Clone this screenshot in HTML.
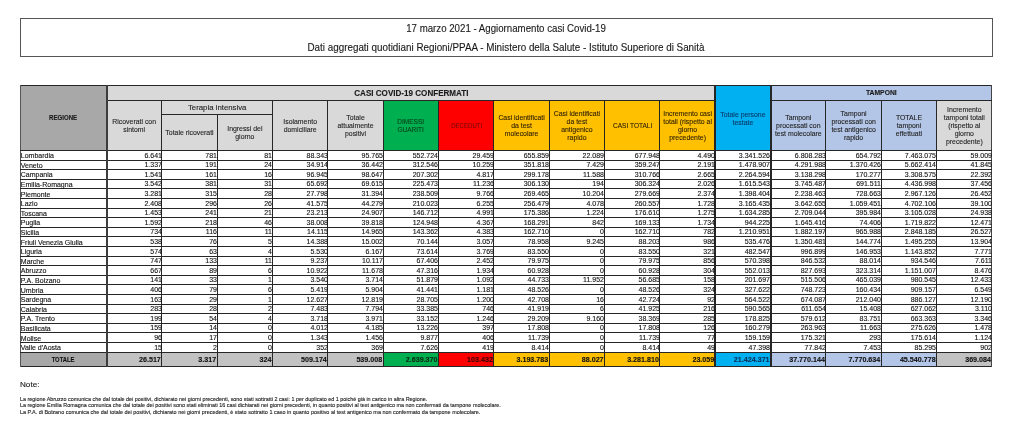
<!DOCTYPE html>
<html><head><meta charset="utf-8"><title>COVID-19 17 marzo 2021</title>
<style>
html,body{margin:0;padding:0;background:#fff;}
body{width:1024px;height:432px;position:relative;overflow:hidden;font-family:"Liberation Sans",sans-serif;}
#wrap{position:absolute;left:0;top:0;width:1024px;height:432px;filter:blur(0.4px);}
.r{position:absolute;box-sizing:border-box;}
.t{position:absolute;white-space:nowrap;overflow:visible;-webkit-text-stroke:0.12px currentColor;}
.h{position:absolute;white-space:nowrap;overflow:visible;-webkit-text-stroke:0.1px currentColor;}
</style></head><body><div id="wrap">
<div class="r" style="left:19.5px;top:17.5px;width:973px;height:39px;border:1px solid #555"></div>
<div class="t" style="left:20.00px;width:972.00px;top:23.28px;line-height:12.24px;font-size:10.2px;text-align:center;color:#1a1a1a;transform:scaleX(0.95);transform-origin:50% 50%">17 marzo 2021 - Aggiornamento casi Covid-19</div>
<div class="t" style="left:20.00px;width:972.00px;top:41.98px;line-height:12.24px;font-size:10.2px;text-align:center;color:#1a1a1a;transform:scaleX(0.966);transform-origin:50% 50%">Dati aggregati quotidiani Regioni/PPAA - Ministero della Salute - Istituto Superiore di Sanità</div>
<div class="r" style="left:20.30px;top:85.50px;width:86.20px;height:65.00px;background:#a8a8a8"></div>
<div class="r" style="left:106.50px;top:85.50px;width:608.78px;height:14.50px;background:#d9d9d9"></div>
<div class="r" style="left:715.28px;top:85.50px;width:55.34px;height:65.00px;background:#00b0f0"></div>
<div class="r" style="left:770.62px;top:85.50px;width:221.38px;height:14.50px;background:#b4c6e7"></div>
<div class="r" style="left:106.50px;top:100.00px;width:55.34px;height:50.50px;background:#d9d9d9"></div>
<div class="r" style="left:161.84px;top:100.00px;width:55.34px;height:50.50px;background:#d9d9d9"></div>
<div class="r" style="left:217.19px;top:100.00px;width:55.34px;height:50.50px;background:#d9d9d9"></div>
<div class="r" style="left:272.53px;top:100.00px;width:55.34px;height:50.50px;background:#d9d9d9"></div>
<div class="r" style="left:327.88px;top:100.00px;width:55.34px;height:50.50px;background:#d9d9d9"></div>
<div class="r" style="left:383.22px;top:100.00px;width:55.34px;height:50.50px;background:#00b050"></div>
<div class="r" style="left:438.56px;top:100.00px;width:55.34px;height:50.50px;background:#ff0000"></div>
<div class="r" style="left:493.91px;top:100.00px;width:55.34px;height:50.50px;background:#ffc000"></div>
<div class="r" style="left:549.25px;top:100.00px;width:55.34px;height:50.50px;background:#ffc000"></div>
<div class="r" style="left:604.59px;top:100.00px;width:55.34px;height:50.50px;background:#ffc000"></div>
<div class="r" style="left:659.94px;top:100.00px;width:55.34px;height:50.50px;background:#ffc000"></div>
<div class="r" style="left:770.62px;top:100.00px;width:55.34px;height:50.50px;background:#b4c6e7"></div>
<div class="r" style="left:825.97px;top:100.00px;width:55.34px;height:50.50px;background:#b4c6e7"></div>
<div class="r" style="left:881.31px;top:100.00px;width:55.34px;height:50.50px;background:#b4c6e7"></div>
<div class="r" style="left:936.66px;top:100.00px;width:55.34px;height:50.50px;background:#d9d9d9"></div>
<div class="r" style="left:20.30px;top:352.10px;width:86.20px;height:13.90px;background:#a8a8a8"></div>
<div class="r" style="left:106.50px;top:352.10px;width:55.34px;height:13.90px;background:#c2c2c2"></div>
<div class="r" style="left:161.84px;top:352.10px;width:55.34px;height:13.90px;background:#c2c2c2"></div>
<div class="r" style="left:217.19px;top:352.10px;width:55.34px;height:13.90px;background:#c2c2c2"></div>
<div class="r" style="left:272.53px;top:352.10px;width:55.34px;height:13.90px;background:#c2c2c2"></div>
<div class="r" style="left:327.88px;top:352.10px;width:55.34px;height:13.90px;background:#c2c2c2"></div>
<div class="r" style="left:383.22px;top:352.10px;width:55.34px;height:13.90px;background:#00b050"></div>
<div class="r" style="left:438.56px;top:352.10px;width:55.34px;height:13.90px;background:#ff0000"></div>
<div class="r" style="left:493.91px;top:352.10px;width:55.34px;height:13.90px;background:#ffc000"></div>
<div class="r" style="left:549.25px;top:352.10px;width:55.34px;height:13.90px;background:#ffc000"></div>
<div class="r" style="left:604.59px;top:352.10px;width:55.34px;height:13.90px;background:#ffc000"></div>
<div class="r" style="left:659.94px;top:352.10px;width:55.34px;height:13.90px;background:#ffc000"></div>
<div class="r" style="left:715.28px;top:352.10px;width:55.34px;height:13.90px;background:#00b0f0"></div>
<div class="r" style="left:770.62px;top:352.10px;width:55.34px;height:13.90px;background:#b4c6e7"></div>
<div class="r" style="left:825.97px;top:352.10px;width:55.34px;height:13.90px;background:#b4c6e7"></div>
<div class="r" style="left:881.31px;top:352.10px;width:55.34px;height:13.90px;background:#b4c6e7"></div>
<div class="r" style="left:936.66px;top:352.10px;width:55.34px;height:13.90px;background:#c2c2c2"></div>
<div class="r" style="left:20.30px;top:85.00px;width:971.70px;height:1.0px;background:#262626"></div>
<div class="r" style="left:20.30px;top:365.50px;width:971.70px;height:1.0px;background:#262626"></div>
<div class="r" style="left:19.80px;top:85.00px;width:1.0px;height:281.50px;background:#555"></div>
<div class="r" style="left:991.30px;top:85.00px;width:1.0px;height:281.50px;background:#444"></div>
<div class="r" style="left:106.50px;top:99.50px;width:608.78px;height:1.0px;background:#262626"></div>
<div class="r" style="left:770.62px;top:99.50px;width:221.38px;height:1.0px;background:#262626"></div>
<div class="r" style="left:161.84px;top:113.80px;width:110.69px;height:1.0px;background:#262626"></div>
<div class="r" style="left:20.30px;top:150.00px;width:971.70px;height:1.0px;background:#262626"></div>
<div class="r" style="left:20.30px;top:159.60px;width:971.70px;height:1.0px;background:#262626"></div>
<div class="r" style="left:20.30px;top:169.20px;width:971.70px;height:1.0px;background:#262626"></div>
<div class="r" style="left:20.30px;top:178.80px;width:971.70px;height:1.0px;background:#262626"></div>
<div class="r" style="left:20.30px;top:188.40px;width:971.70px;height:1.0px;background:#262626"></div>
<div class="r" style="left:20.30px;top:198.00px;width:971.70px;height:1.0px;background:#262626"></div>
<div class="r" style="left:20.30px;top:207.60px;width:971.70px;height:1.0px;background:#262626"></div>
<div class="r" style="left:20.30px;top:217.20px;width:971.70px;height:1.0px;background:#262626"></div>
<div class="r" style="left:20.30px;top:226.80px;width:971.70px;height:1.0px;background:#262626"></div>
<div class="r" style="left:20.30px;top:236.40px;width:971.70px;height:1.0px;background:#262626"></div>
<div class="r" style="left:20.30px;top:246.00px;width:971.70px;height:1.0px;background:#262626"></div>
<div class="r" style="left:20.30px;top:255.60px;width:971.70px;height:1.0px;background:#262626"></div>
<div class="r" style="left:20.30px;top:265.20px;width:971.70px;height:1.0px;background:#262626"></div>
<div class="r" style="left:20.30px;top:274.80px;width:971.70px;height:1.0px;background:#262626"></div>
<div class="r" style="left:20.30px;top:284.40px;width:971.70px;height:1.0px;background:#262626"></div>
<div class="r" style="left:20.30px;top:294.00px;width:971.70px;height:1.0px;background:#262626"></div>
<div class="r" style="left:20.30px;top:303.60px;width:971.70px;height:1.0px;background:#262626"></div>
<div class="r" style="left:20.30px;top:313.20px;width:971.70px;height:1.0px;background:#262626"></div>
<div class="r" style="left:20.30px;top:322.80px;width:971.70px;height:1.0px;background:#262626"></div>
<div class="r" style="left:20.30px;top:332.40px;width:971.70px;height:1.0px;background:#262626"></div>
<div class="r" style="left:20.30px;top:342.00px;width:971.70px;height:1.0px;background:#262626"></div>
<div class="r" style="left:20.30px;top:351.60px;width:971.70px;height:1.0px;background:#262626"></div>
<div class="r" style="left:105.60px;top:85.00px;width:2.0px;height:281.50px;background:#3c3c3c"></div>
<div class="r" style="left:161.34px;top:99.50px;width:1.0px;height:267.00px;background:#262626"></div>
<div class="r" style="left:216.69px;top:113.80px;width:1.0px;height:252.70px;background:#262626"></div>
<div class="r" style="left:272.03px;top:99.50px;width:1.0px;height:267.00px;background:#262626"></div>
<div class="r" style="left:327.38px;top:99.50px;width:1.0px;height:267.00px;background:#262626"></div>
<div class="r" style="left:382.72px;top:99.50px;width:1.0px;height:267.00px;background:#262626"></div>
<div class="r" style="left:438.06px;top:99.50px;width:1.0px;height:267.00px;background:#262626"></div>
<div class="r" style="left:493.41px;top:99.50px;width:1.0px;height:267.00px;background:#262626"></div>
<div class="r" style="left:548.75px;top:99.50px;width:1.0px;height:267.00px;background:#262626"></div>
<div class="r" style="left:604.09px;top:99.50px;width:1.0px;height:267.00px;background:#262626"></div>
<div class="r" style="left:659.44px;top:99.50px;width:1.0px;height:267.00px;background:#262626"></div>
<div class="r" style="left:714.28px;top:85.00px;width:2.0px;height:281.50px;background:#262626"></div>
<div class="r" style="left:769.62px;top:85.00px;width:2.0px;height:281.50px;background:#262626"></div>
<div class="r" style="left:825.47px;top:99.50px;width:1.0px;height:267.00px;background:#262626"></div>
<div class="r" style="left:880.81px;top:99.50px;width:1.0px;height:267.00px;background:#262626"></div>
<div class="r" style="left:936.16px;top:99.50px;width:1.0px;height:267.00px;background:#262626"></div>
<div class="t" style="left:20.30px;width:86.20px;top:114.00px;line-height:8.40px;font-size:7.0px;text-align:center;color:#1a1a1a;font-weight:700;transform:scaleX(0.87);transform-origin:50% 50%">REGIONE</div>
<div class="t" style="left:106.50px;width:608.78px;top:87.80px;line-height:10.20px;font-size:8.5px;text-align:center;color:#1a1a1a;font-weight:700;transform:scaleX(0.95);transform-origin:50% 50%">CASI COVID-19 CONFERMATI</div>
<div class="t" style="left:770.62px;width:221.38px;top:88.52px;line-height:8.16px;font-size:6.8px;text-align:center;color:#1a1a1a;font-weight:700">TAMPONI</div>
<div class="h" style="left:161.84px;width:110.69px;top:102.92px;line-height:9.36px;font-size:7.8px;text-align:center;color:#222">Terapia intensiva</div>
<div class="h" style="left:106.50px;width:55.34px;top:118.26px;line-height:8.28px;font-size:6.9px;text-align:center;color:#222">Ricoverati con</div>
<div class="h" style="left:106.50px;width:55.34px;top:126.26px;line-height:8.28px;font-size:6.9px;text-align:center;color:#222">sintomi</div>
<div class="h" style="left:161.84px;width:55.34px;top:129.46px;line-height:8.28px;font-size:6.9px;text-align:center;color:#222">Totale ricoverati</div>
<div class="h" style="left:217.19px;width:55.34px;top:125.46px;line-height:8.28px;font-size:6.9px;text-align:center;color:#222">Ingressi del</div>
<div class="h" style="left:217.19px;width:55.34px;top:133.46px;line-height:8.28px;font-size:6.9px;text-align:center;color:#222">giorno</div>
<div class="h" style="left:272.53px;width:55.34px;top:118.26px;line-height:8.28px;font-size:6.9px;text-align:center;color:#222">Isolamento</div>
<div class="h" style="left:272.53px;width:55.34px;top:126.26px;line-height:8.28px;font-size:6.9px;text-align:center;color:#222">domiciliare</div>
<div class="h" style="left:327.88px;width:55.34px;top:114.16px;line-height:8.28px;font-size:6.9px;text-align:center;color:#222">Totale</div>
<div class="h" style="left:327.88px;width:55.34px;top:122.16px;line-height:8.28px;font-size:6.9px;text-align:center;color:#222">attualmente</div>
<div class="h" style="left:327.88px;width:55.34px;top:130.16px;line-height:8.28px;font-size:6.9px;text-align:center;color:#222">positivi</div>
<div class="h" style="left:383.22px;width:55.34px;top:118.26px;line-height:8.28px;font-size:6.9px;text-align:center;color:#0a3d18;transform:scaleX(0.95);transform-origin:50% 50%">DIMESSI</div>
<div class="h" style="left:383.22px;width:55.34px;top:126.26px;line-height:8.28px;font-size:6.9px;text-align:center;color:#0a3d18;transform:scaleX(0.95);transform-origin:50% 50%">GUARITI</div>
<div class="h" style="left:438.56px;width:55.34px;top:122.06px;line-height:8.28px;font-size:6.9px;text-align:center;color:#7a0808;transform:scaleX(0.88);transform-origin:50% 50%">DECEDUTI</div>
<div class="h" style="left:493.91px;width:55.34px;top:114.16px;line-height:8.28px;font-size:6.9px;text-align:center;color:#2a1e00">Casi identificati</div>
<div class="h" style="left:493.91px;width:55.34px;top:122.16px;line-height:8.28px;font-size:6.9px;text-align:center;color:#2a1e00">da test</div>
<div class="h" style="left:493.91px;width:55.34px;top:130.16px;line-height:8.28px;font-size:6.9px;text-align:center;color:#2a1e00">molecolare</div>
<div class="h" style="left:549.25px;width:55.34px;top:110.16px;line-height:8.28px;font-size:6.9px;text-align:center;color:#2a1e00">Casi identificati</div>
<div class="h" style="left:549.25px;width:55.34px;top:118.16px;line-height:8.28px;font-size:6.9px;text-align:center;color:#2a1e00">da test</div>
<div class="h" style="left:549.25px;width:55.34px;top:126.16px;line-height:8.28px;font-size:6.9px;text-align:center;color:#2a1e00">antigenico</div>
<div class="h" style="left:549.25px;width:55.34px;top:134.16px;line-height:8.28px;font-size:6.9px;text-align:center;color:#2a1e00">rapido</div>
<div class="h" style="left:604.59px;width:55.34px;top:122.06px;line-height:8.28px;font-size:6.9px;text-align:center;color:#2a1e00;transform:scaleX(0.95);transform-origin:50% 50%">CASI TOTALI</div>
<div class="h" style="left:659.94px;width:55.34px;top:110.16px;line-height:8.28px;font-size:6.9px;text-align:center;color:#2a1e00">Incremento casi</div>
<div class="h" style="left:659.94px;width:55.34px;top:118.16px;line-height:8.28px;font-size:6.9px;text-align:center;color:#2a1e00">totali (rispetto al</div>
<div class="h" style="left:659.94px;width:55.34px;top:126.16px;line-height:8.28px;font-size:6.9px;text-align:center;color:#2a1e00">giorno</div>
<div class="h" style="left:659.94px;width:55.34px;top:134.16px;line-height:8.28px;font-size:6.9px;text-align:center;color:#2a1e00">precedente)</div>
<div class="h" style="left:715.28px;width:55.34px;top:111.06px;line-height:8.28px;font-size:6.9px;text-align:center;color:#0b3a6a">Totale persone</div>
<div class="h" style="left:715.28px;width:55.34px;top:119.06px;line-height:8.28px;font-size:6.9px;text-align:center;color:#0b3a6a">testate</div>
<div class="h" style="left:770.62px;width:55.34px;top:114.16px;line-height:8.28px;font-size:6.9px;text-align:center;color:#222">Tamponi</div>
<div class="h" style="left:770.62px;width:55.34px;top:122.16px;line-height:8.28px;font-size:6.9px;text-align:center;color:#222">processati con</div>
<div class="h" style="left:770.62px;width:55.34px;top:130.16px;line-height:8.28px;font-size:6.9px;text-align:center;color:#222">test molecolare</div>
<div class="h" style="left:825.97px;width:55.34px;top:110.16px;line-height:8.28px;font-size:6.9px;text-align:center;color:#222">Tamponi</div>
<div class="h" style="left:825.97px;width:55.34px;top:118.16px;line-height:8.28px;font-size:6.9px;text-align:center;color:#222">processati con</div>
<div class="h" style="left:825.97px;width:55.34px;top:126.16px;line-height:8.28px;font-size:6.9px;text-align:center;color:#222">test antigenico</div>
<div class="h" style="left:825.97px;width:55.34px;top:134.16px;line-height:8.28px;font-size:6.9px;text-align:center;color:#222">rapido</div>
<div class="h" style="left:881.31px;width:55.34px;top:114.16px;line-height:8.28px;font-size:6.9px;text-align:center;color:#222">TOTALE</div>
<div class="h" style="left:881.31px;width:55.34px;top:122.16px;line-height:8.28px;font-size:6.9px;text-align:center;color:#222">tamponi</div>
<div class="h" style="left:881.31px;width:55.34px;top:130.16px;line-height:8.28px;font-size:6.9px;text-align:center;color:#222">effettuati</div>
<div class="h" style="left:936.66px;width:55.34px;top:106.06px;line-height:8.28px;font-size:6.9px;text-align:center;color:#222">Incremento</div>
<div class="h" style="left:936.66px;width:55.34px;top:114.06px;line-height:8.28px;font-size:6.9px;text-align:center;color:#222">tamponi totali</div>
<div class="h" style="left:936.66px;width:55.34px;top:122.06px;line-height:8.28px;font-size:6.9px;text-align:center;color:#222">(rispetto al</div>
<div class="h" style="left:936.66px;width:55.34px;top:130.06px;line-height:8.28px;font-size:6.9px;text-align:center;color:#222">giorno</div>
<div class="h" style="left:936.66px;width:55.34px;top:138.06px;line-height:8.28px;font-size:6.9px;text-align:center;color:#222">precedente)</div>
<div class="t" style="left:20.80px;width:85.70px;top:152.20px;line-height:8.40px;font-size:7.0px;text-align:left;color:#111">Lombardia</div>
<div class="t" style="left:106.50px;width:54.94px;top:151.66px;line-height:8.88px;font-size:7.4px;text-align:right;color:#111;transform:scaleX(0.946);transform-origin:100% 50%">6.641</div>
<div class="t" style="left:161.84px;width:54.94px;top:151.66px;line-height:8.88px;font-size:7.4px;text-align:right;color:#111;transform:scaleX(0.946);transform-origin:100% 50%">781</div>
<div class="t" style="left:217.19px;width:54.94px;top:151.66px;line-height:8.88px;font-size:7.4px;text-align:right;color:#111;transform:scaleX(0.946);transform-origin:100% 50%">81</div>
<div class="t" style="left:272.53px;width:54.94px;top:151.66px;line-height:8.88px;font-size:7.4px;text-align:right;color:#111;transform:scaleX(0.946);transform-origin:100% 50%">88.343</div>
<div class="t" style="left:327.88px;width:54.94px;top:151.66px;line-height:8.88px;font-size:7.4px;text-align:right;color:#111;transform:scaleX(0.946);transform-origin:100% 50%">95.765</div>
<div class="t" style="left:383.22px;width:54.94px;top:151.66px;line-height:8.88px;font-size:7.4px;text-align:right;color:#111;transform:scaleX(0.946);transform-origin:100% 50%">552.724</div>
<div class="t" style="left:438.56px;width:54.94px;top:151.66px;line-height:8.88px;font-size:7.4px;text-align:right;color:#111;transform:scaleX(0.946);transform-origin:100% 50%">29.459</div>
<div class="t" style="left:493.91px;width:54.94px;top:151.66px;line-height:8.88px;font-size:7.4px;text-align:right;color:#111;transform:scaleX(0.946);transform-origin:100% 50%">655.859</div>
<div class="t" style="left:549.25px;width:54.94px;top:151.66px;line-height:8.88px;font-size:7.4px;text-align:right;color:#111;transform:scaleX(0.946);transform-origin:100% 50%">22.089</div>
<div class="t" style="left:604.59px;width:54.94px;top:151.66px;line-height:8.88px;font-size:7.4px;text-align:right;color:#111;transform:scaleX(0.946);transform-origin:100% 50%">677.948</div>
<div class="t" style="left:659.94px;width:54.94px;top:151.66px;line-height:8.88px;font-size:7.4px;text-align:right;color:#111;transform:scaleX(0.946);transform-origin:100% 50%">4.490</div>
<div class="t" style="left:715.28px;width:54.94px;top:151.66px;line-height:8.88px;font-size:7.4px;text-align:right;color:#111;transform:scaleX(0.946);transform-origin:100% 50%">3.341.526</div>
<div class="t" style="left:770.62px;width:54.94px;top:151.66px;line-height:8.88px;font-size:7.4px;text-align:right;color:#111;transform:scaleX(0.946);transform-origin:100% 50%">6.808.283</div>
<div class="t" style="left:825.97px;width:54.94px;top:151.66px;line-height:8.88px;font-size:7.4px;text-align:right;color:#111;transform:scaleX(0.946);transform-origin:100% 50%">654.792</div>
<div class="t" style="left:881.31px;width:54.94px;top:151.66px;line-height:8.88px;font-size:7.4px;text-align:right;color:#111;transform:scaleX(0.946);transform-origin:100% 50%">7.463.075</div>
<div class="t" style="left:936.66px;width:54.94px;top:151.66px;line-height:8.88px;font-size:7.4px;text-align:right;color:#111;transform:scaleX(0.946);transform-origin:100% 50%">59.009</div>
<div class="t" style="left:20.80px;width:85.70px;top:161.80px;line-height:8.40px;font-size:7.0px;text-align:left;color:#111">Veneto</div>
<div class="t" style="left:106.50px;width:54.94px;top:161.26px;line-height:8.88px;font-size:7.4px;text-align:right;color:#111;transform:scaleX(0.946);transform-origin:100% 50%">1.337</div>
<div class="t" style="left:161.84px;width:54.94px;top:161.26px;line-height:8.88px;font-size:7.4px;text-align:right;color:#111;transform:scaleX(0.946);transform-origin:100% 50%">191</div>
<div class="t" style="left:217.19px;width:54.94px;top:161.26px;line-height:8.88px;font-size:7.4px;text-align:right;color:#111;transform:scaleX(0.946);transform-origin:100% 50%">24</div>
<div class="t" style="left:272.53px;width:54.94px;top:161.26px;line-height:8.88px;font-size:7.4px;text-align:right;color:#111;transform:scaleX(0.946);transform-origin:100% 50%">34.914</div>
<div class="t" style="left:327.88px;width:54.94px;top:161.26px;line-height:8.88px;font-size:7.4px;text-align:right;color:#111;transform:scaleX(0.946);transform-origin:100% 50%">36.442</div>
<div class="t" style="left:383.22px;width:54.94px;top:161.26px;line-height:8.88px;font-size:7.4px;text-align:right;color:#111;transform:scaleX(0.946);transform-origin:100% 50%">312.546</div>
<div class="t" style="left:438.56px;width:54.94px;top:161.26px;line-height:8.88px;font-size:7.4px;text-align:right;color:#111;transform:scaleX(0.946);transform-origin:100% 50%">10.259</div>
<div class="t" style="left:493.91px;width:54.94px;top:161.26px;line-height:8.88px;font-size:7.4px;text-align:right;color:#111;transform:scaleX(0.946);transform-origin:100% 50%">351.818</div>
<div class="t" style="left:549.25px;width:54.94px;top:161.26px;line-height:8.88px;font-size:7.4px;text-align:right;color:#111;transform:scaleX(0.946);transform-origin:100% 50%">7.429</div>
<div class="t" style="left:604.59px;width:54.94px;top:161.26px;line-height:8.88px;font-size:7.4px;text-align:right;color:#111;transform:scaleX(0.946);transform-origin:100% 50%">359.247</div>
<div class="t" style="left:659.94px;width:54.94px;top:161.26px;line-height:8.88px;font-size:7.4px;text-align:right;color:#111;transform:scaleX(0.946);transform-origin:100% 50%">2.191</div>
<div class="t" style="left:715.28px;width:54.94px;top:161.26px;line-height:8.88px;font-size:7.4px;text-align:right;color:#111;transform:scaleX(0.946);transform-origin:100% 50%">1.478.907</div>
<div class="t" style="left:770.62px;width:54.94px;top:161.26px;line-height:8.88px;font-size:7.4px;text-align:right;color:#111;transform:scaleX(0.946);transform-origin:100% 50%">4.291.988</div>
<div class="t" style="left:825.97px;width:54.94px;top:161.26px;line-height:8.88px;font-size:7.4px;text-align:right;color:#111;transform:scaleX(0.946);transform-origin:100% 50%">1.370.426</div>
<div class="t" style="left:881.31px;width:54.94px;top:161.26px;line-height:8.88px;font-size:7.4px;text-align:right;color:#111;transform:scaleX(0.946);transform-origin:100% 50%">5.662.414</div>
<div class="t" style="left:936.66px;width:54.94px;top:161.26px;line-height:8.88px;font-size:7.4px;text-align:right;color:#111;transform:scaleX(0.946);transform-origin:100% 50%">41.845</div>
<div class="t" style="left:20.80px;width:85.70px;top:171.40px;line-height:8.40px;font-size:7.0px;text-align:left;color:#111">Campania</div>
<div class="t" style="left:106.50px;width:54.94px;top:170.86px;line-height:8.88px;font-size:7.4px;text-align:right;color:#111;transform:scaleX(0.946);transform-origin:100% 50%">1.541</div>
<div class="t" style="left:161.84px;width:54.94px;top:170.86px;line-height:8.88px;font-size:7.4px;text-align:right;color:#111;transform:scaleX(0.946);transform-origin:100% 50%">161</div>
<div class="t" style="left:217.19px;width:54.94px;top:170.86px;line-height:8.88px;font-size:7.4px;text-align:right;color:#111;transform:scaleX(0.946);transform-origin:100% 50%">16</div>
<div class="t" style="left:272.53px;width:54.94px;top:170.86px;line-height:8.88px;font-size:7.4px;text-align:right;color:#111;transform:scaleX(0.946);transform-origin:100% 50%">96.945</div>
<div class="t" style="left:327.88px;width:54.94px;top:170.86px;line-height:8.88px;font-size:7.4px;text-align:right;color:#111;transform:scaleX(0.946);transform-origin:100% 50%">98.647</div>
<div class="t" style="left:383.22px;width:54.94px;top:170.86px;line-height:8.88px;font-size:7.4px;text-align:right;color:#111;transform:scaleX(0.946);transform-origin:100% 50%">207.302</div>
<div class="t" style="left:438.56px;width:54.94px;top:170.86px;line-height:8.88px;font-size:7.4px;text-align:right;color:#111;transform:scaleX(0.946);transform-origin:100% 50%">4.817</div>
<div class="t" style="left:493.91px;width:54.94px;top:170.86px;line-height:8.88px;font-size:7.4px;text-align:right;color:#111;transform:scaleX(0.946);transform-origin:100% 50%">299.178</div>
<div class="t" style="left:549.25px;width:54.94px;top:170.86px;line-height:8.88px;font-size:7.4px;text-align:right;color:#111;transform:scaleX(0.946);transform-origin:100% 50%">11.588</div>
<div class="t" style="left:604.59px;width:54.94px;top:170.86px;line-height:8.88px;font-size:7.4px;text-align:right;color:#111;transform:scaleX(0.946);transform-origin:100% 50%">310.766</div>
<div class="t" style="left:659.94px;width:54.94px;top:170.86px;line-height:8.88px;font-size:7.4px;text-align:right;color:#111;transform:scaleX(0.946);transform-origin:100% 50%">2.665</div>
<div class="t" style="left:715.28px;width:54.94px;top:170.86px;line-height:8.88px;font-size:7.4px;text-align:right;color:#111;transform:scaleX(0.946);transform-origin:100% 50%">2.264.594</div>
<div class="t" style="left:770.62px;width:54.94px;top:170.86px;line-height:8.88px;font-size:7.4px;text-align:right;color:#111;transform:scaleX(0.946);transform-origin:100% 50%">3.138.298</div>
<div class="t" style="left:825.97px;width:54.94px;top:170.86px;line-height:8.88px;font-size:7.4px;text-align:right;color:#111;transform:scaleX(0.946);transform-origin:100% 50%">170.277</div>
<div class="t" style="left:881.31px;width:54.94px;top:170.86px;line-height:8.88px;font-size:7.4px;text-align:right;color:#111;transform:scaleX(0.946);transform-origin:100% 50%">3.308.575</div>
<div class="t" style="left:936.66px;width:54.94px;top:170.86px;line-height:8.88px;font-size:7.4px;text-align:right;color:#111;transform:scaleX(0.946);transform-origin:100% 50%">22.392</div>
<div class="t" style="left:20.80px;width:85.70px;top:181.00px;line-height:8.40px;font-size:7.0px;text-align:left;color:#111">Emilia-Romagna</div>
<div class="t" style="left:106.50px;width:54.94px;top:180.46px;line-height:8.88px;font-size:7.4px;text-align:right;color:#111;transform:scaleX(0.946);transform-origin:100% 50%">3.542</div>
<div class="t" style="left:161.84px;width:54.94px;top:180.46px;line-height:8.88px;font-size:7.4px;text-align:right;color:#111;transform:scaleX(0.946);transform-origin:100% 50%">381</div>
<div class="t" style="left:217.19px;width:54.94px;top:180.46px;line-height:8.88px;font-size:7.4px;text-align:right;color:#111;transform:scaleX(0.946);transform-origin:100% 50%">31</div>
<div class="t" style="left:272.53px;width:54.94px;top:180.46px;line-height:8.88px;font-size:7.4px;text-align:right;color:#111;transform:scaleX(0.946);transform-origin:100% 50%">65.692</div>
<div class="t" style="left:327.88px;width:54.94px;top:180.46px;line-height:8.88px;font-size:7.4px;text-align:right;color:#111;transform:scaleX(0.946);transform-origin:100% 50%">69.615</div>
<div class="t" style="left:383.22px;width:54.94px;top:180.46px;line-height:8.88px;font-size:7.4px;text-align:right;color:#111;transform:scaleX(0.946);transform-origin:100% 50%">225.473</div>
<div class="t" style="left:438.56px;width:54.94px;top:180.46px;line-height:8.88px;font-size:7.4px;text-align:right;color:#111;transform:scaleX(0.946);transform-origin:100% 50%">11.236</div>
<div class="t" style="left:493.91px;width:54.94px;top:180.46px;line-height:8.88px;font-size:7.4px;text-align:right;color:#111;transform:scaleX(0.946);transform-origin:100% 50%">306.130</div>
<div class="t" style="left:549.25px;width:54.94px;top:180.46px;line-height:8.88px;font-size:7.4px;text-align:right;color:#111;transform:scaleX(0.946);transform-origin:100% 50%">194</div>
<div class="t" style="left:604.59px;width:54.94px;top:180.46px;line-height:8.88px;font-size:7.4px;text-align:right;color:#111;transform:scaleX(0.946);transform-origin:100% 50%">306.324</div>
<div class="t" style="left:659.94px;width:54.94px;top:180.46px;line-height:8.88px;font-size:7.4px;text-align:right;color:#111;transform:scaleX(0.946);transform-origin:100% 50%">2.026</div>
<div class="t" style="left:715.28px;width:54.94px;top:180.46px;line-height:8.88px;font-size:7.4px;text-align:right;color:#111;transform:scaleX(0.946);transform-origin:100% 50%">1.615.543</div>
<div class="t" style="left:770.62px;width:54.94px;top:180.46px;line-height:8.88px;font-size:7.4px;text-align:right;color:#111;transform:scaleX(0.946);transform-origin:100% 50%">3.745.487</div>
<div class="t" style="left:825.97px;width:54.94px;top:180.46px;line-height:8.88px;font-size:7.4px;text-align:right;color:#111;transform:scaleX(0.946);transform-origin:100% 50%">691.511</div>
<div class="t" style="left:881.31px;width:54.94px;top:180.46px;line-height:8.88px;font-size:7.4px;text-align:right;color:#111;transform:scaleX(0.946);transform-origin:100% 50%">4.436.998</div>
<div class="t" style="left:936.66px;width:54.94px;top:180.46px;line-height:8.88px;font-size:7.4px;text-align:right;color:#111;transform:scaleX(0.946);transform-origin:100% 50%">37.456</div>
<div class="t" style="left:20.80px;width:85.70px;top:190.60px;line-height:8.40px;font-size:7.0px;text-align:left;color:#111">Piemonte</div>
<div class="t" style="left:106.50px;width:54.94px;top:190.06px;line-height:8.88px;font-size:7.4px;text-align:right;color:#111;transform:scaleX(0.946);transform-origin:100% 50%">3.281</div>
<div class="t" style="left:161.84px;width:54.94px;top:190.06px;line-height:8.88px;font-size:7.4px;text-align:right;color:#111;transform:scaleX(0.946);transform-origin:100% 50%">315</div>
<div class="t" style="left:217.19px;width:54.94px;top:190.06px;line-height:8.88px;font-size:7.4px;text-align:right;color:#111;transform:scaleX(0.946);transform-origin:100% 50%">28</div>
<div class="t" style="left:272.53px;width:54.94px;top:190.06px;line-height:8.88px;font-size:7.4px;text-align:right;color:#111;transform:scaleX(0.946);transform-origin:100% 50%">27.798</div>
<div class="t" style="left:327.88px;width:54.94px;top:190.06px;line-height:8.88px;font-size:7.4px;text-align:right;color:#111;transform:scaleX(0.946);transform-origin:100% 50%">31.394</div>
<div class="t" style="left:383.22px;width:54.94px;top:190.06px;line-height:8.88px;font-size:7.4px;text-align:right;color:#111;transform:scaleX(0.946);transform-origin:100% 50%">238.509</div>
<div class="t" style="left:438.56px;width:54.94px;top:190.06px;line-height:8.88px;font-size:7.4px;text-align:right;color:#111;transform:scaleX(0.946);transform-origin:100% 50%">9.766</div>
<div class="t" style="left:493.91px;width:54.94px;top:190.06px;line-height:8.88px;font-size:7.4px;text-align:right;color:#111;transform:scaleX(0.946);transform-origin:100% 50%">269.465</div>
<div class="t" style="left:549.25px;width:54.94px;top:190.06px;line-height:8.88px;font-size:7.4px;text-align:right;color:#111;transform:scaleX(0.946);transform-origin:100% 50%">10.204</div>
<div class="t" style="left:604.59px;width:54.94px;top:190.06px;line-height:8.88px;font-size:7.4px;text-align:right;color:#111;transform:scaleX(0.946);transform-origin:100% 50%">279.669</div>
<div class="t" style="left:659.94px;width:54.94px;top:190.06px;line-height:8.88px;font-size:7.4px;text-align:right;color:#111;transform:scaleX(0.946);transform-origin:100% 50%">2.374</div>
<div class="t" style="left:715.28px;width:54.94px;top:190.06px;line-height:8.88px;font-size:7.4px;text-align:right;color:#111;transform:scaleX(0.946);transform-origin:100% 50%">1.398.404</div>
<div class="t" style="left:770.62px;width:54.94px;top:190.06px;line-height:8.88px;font-size:7.4px;text-align:right;color:#111;transform:scaleX(0.946);transform-origin:100% 50%">2.238.463</div>
<div class="t" style="left:825.97px;width:54.94px;top:190.06px;line-height:8.88px;font-size:7.4px;text-align:right;color:#111;transform:scaleX(0.946);transform-origin:100% 50%">728.663</div>
<div class="t" style="left:881.31px;width:54.94px;top:190.06px;line-height:8.88px;font-size:7.4px;text-align:right;color:#111;transform:scaleX(0.946);transform-origin:100% 50%">2.967.126</div>
<div class="t" style="left:936.66px;width:54.94px;top:190.06px;line-height:8.88px;font-size:7.4px;text-align:right;color:#111;transform:scaleX(0.946);transform-origin:100% 50%">26.452</div>
<div class="t" style="left:20.80px;width:85.70px;top:200.20px;line-height:8.40px;font-size:7.0px;text-align:left;color:#111">Lazio</div>
<div class="t" style="left:106.50px;width:54.94px;top:199.66px;line-height:8.88px;font-size:7.4px;text-align:right;color:#111;transform:scaleX(0.946);transform-origin:100% 50%">2.408</div>
<div class="t" style="left:161.84px;width:54.94px;top:199.66px;line-height:8.88px;font-size:7.4px;text-align:right;color:#111;transform:scaleX(0.946);transform-origin:100% 50%">296</div>
<div class="t" style="left:217.19px;width:54.94px;top:199.66px;line-height:8.88px;font-size:7.4px;text-align:right;color:#111;transform:scaleX(0.946);transform-origin:100% 50%">26</div>
<div class="t" style="left:272.53px;width:54.94px;top:199.66px;line-height:8.88px;font-size:7.4px;text-align:right;color:#111;transform:scaleX(0.946);transform-origin:100% 50%">41.575</div>
<div class="t" style="left:327.88px;width:54.94px;top:199.66px;line-height:8.88px;font-size:7.4px;text-align:right;color:#111;transform:scaleX(0.946);transform-origin:100% 50%">44.279</div>
<div class="t" style="left:383.22px;width:54.94px;top:199.66px;line-height:8.88px;font-size:7.4px;text-align:right;color:#111;transform:scaleX(0.946);transform-origin:100% 50%">210.023</div>
<div class="t" style="left:438.56px;width:54.94px;top:199.66px;line-height:8.88px;font-size:7.4px;text-align:right;color:#111;transform:scaleX(0.946);transform-origin:100% 50%">6.255</div>
<div class="t" style="left:493.91px;width:54.94px;top:199.66px;line-height:8.88px;font-size:7.4px;text-align:right;color:#111;transform:scaleX(0.946);transform-origin:100% 50%">256.479</div>
<div class="t" style="left:549.25px;width:54.94px;top:199.66px;line-height:8.88px;font-size:7.4px;text-align:right;color:#111;transform:scaleX(0.946);transform-origin:100% 50%">4.078</div>
<div class="t" style="left:604.59px;width:54.94px;top:199.66px;line-height:8.88px;font-size:7.4px;text-align:right;color:#111;transform:scaleX(0.946);transform-origin:100% 50%">260.557</div>
<div class="t" style="left:659.94px;width:54.94px;top:199.66px;line-height:8.88px;font-size:7.4px;text-align:right;color:#111;transform:scaleX(0.946);transform-origin:100% 50%">1.728</div>
<div class="t" style="left:715.28px;width:54.94px;top:199.66px;line-height:8.88px;font-size:7.4px;text-align:right;color:#111;transform:scaleX(0.946);transform-origin:100% 50%">3.165.435</div>
<div class="t" style="left:770.62px;width:54.94px;top:199.66px;line-height:8.88px;font-size:7.4px;text-align:right;color:#111;transform:scaleX(0.946);transform-origin:100% 50%">3.642.655</div>
<div class="t" style="left:825.97px;width:54.94px;top:199.66px;line-height:8.88px;font-size:7.4px;text-align:right;color:#111;transform:scaleX(0.946);transform-origin:100% 50%">1.059.451</div>
<div class="t" style="left:881.31px;width:54.94px;top:199.66px;line-height:8.88px;font-size:7.4px;text-align:right;color:#111;transform:scaleX(0.946);transform-origin:100% 50%">4.702.106</div>
<div class="t" style="left:936.66px;width:54.94px;top:199.66px;line-height:8.88px;font-size:7.4px;text-align:right;color:#111;transform:scaleX(0.946);transform-origin:100% 50%">39.100</div>
<div class="t" style="left:20.80px;width:85.70px;top:209.80px;line-height:8.40px;font-size:7.0px;text-align:left;color:#111">Toscana</div>
<div class="t" style="left:106.50px;width:54.94px;top:209.26px;line-height:8.88px;font-size:7.4px;text-align:right;color:#111;transform:scaleX(0.946);transform-origin:100% 50%">1.453</div>
<div class="t" style="left:161.84px;width:54.94px;top:209.26px;line-height:8.88px;font-size:7.4px;text-align:right;color:#111;transform:scaleX(0.946);transform-origin:100% 50%">241</div>
<div class="t" style="left:217.19px;width:54.94px;top:209.26px;line-height:8.88px;font-size:7.4px;text-align:right;color:#111;transform:scaleX(0.946);transform-origin:100% 50%">21</div>
<div class="t" style="left:272.53px;width:54.94px;top:209.26px;line-height:8.88px;font-size:7.4px;text-align:right;color:#111;transform:scaleX(0.946);transform-origin:100% 50%">23.213</div>
<div class="t" style="left:327.88px;width:54.94px;top:209.26px;line-height:8.88px;font-size:7.4px;text-align:right;color:#111;transform:scaleX(0.946);transform-origin:100% 50%">24.907</div>
<div class="t" style="left:383.22px;width:54.94px;top:209.26px;line-height:8.88px;font-size:7.4px;text-align:right;color:#111;transform:scaleX(0.946);transform-origin:100% 50%">146.712</div>
<div class="t" style="left:438.56px;width:54.94px;top:209.26px;line-height:8.88px;font-size:7.4px;text-align:right;color:#111;transform:scaleX(0.946);transform-origin:100% 50%">4.991</div>
<div class="t" style="left:493.91px;width:54.94px;top:209.26px;line-height:8.88px;font-size:7.4px;text-align:right;color:#111;transform:scaleX(0.946);transform-origin:100% 50%">175.386</div>
<div class="t" style="left:549.25px;width:54.94px;top:209.26px;line-height:8.88px;font-size:7.4px;text-align:right;color:#111;transform:scaleX(0.946);transform-origin:100% 50%">1.224</div>
<div class="t" style="left:604.59px;width:54.94px;top:209.26px;line-height:8.88px;font-size:7.4px;text-align:right;color:#111;transform:scaleX(0.946);transform-origin:100% 50%">176.610</div>
<div class="t" style="left:659.94px;width:54.94px;top:209.26px;line-height:8.88px;font-size:7.4px;text-align:right;color:#111;transform:scaleX(0.946);transform-origin:100% 50%">1.275</div>
<div class="t" style="left:715.28px;width:54.94px;top:209.26px;line-height:8.88px;font-size:7.4px;text-align:right;color:#111;transform:scaleX(0.946);transform-origin:100% 50%">1.634.285</div>
<div class="t" style="left:770.62px;width:54.94px;top:209.26px;line-height:8.88px;font-size:7.4px;text-align:right;color:#111;transform:scaleX(0.946);transform-origin:100% 50%">2.709.044</div>
<div class="t" style="left:825.97px;width:54.94px;top:209.26px;line-height:8.88px;font-size:7.4px;text-align:right;color:#111;transform:scaleX(0.946);transform-origin:100% 50%">395.984</div>
<div class="t" style="left:881.31px;width:54.94px;top:209.26px;line-height:8.88px;font-size:7.4px;text-align:right;color:#111;transform:scaleX(0.946);transform-origin:100% 50%">3.105.028</div>
<div class="t" style="left:936.66px;width:54.94px;top:209.26px;line-height:8.88px;font-size:7.4px;text-align:right;color:#111;transform:scaleX(0.946);transform-origin:100% 50%">24.938</div>
<div class="t" style="left:20.80px;width:85.70px;top:219.40px;line-height:8.40px;font-size:7.0px;text-align:left;color:#111">Puglia</div>
<div class="t" style="left:106.50px;width:54.94px;top:218.86px;line-height:8.88px;font-size:7.4px;text-align:right;color:#111;transform:scaleX(0.946);transform-origin:100% 50%">1.592</div>
<div class="t" style="left:161.84px;width:54.94px;top:218.86px;line-height:8.88px;font-size:7.4px;text-align:right;color:#111;transform:scaleX(0.946);transform-origin:100% 50%">218</div>
<div class="t" style="left:217.19px;width:54.94px;top:218.86px;line-height:8.88px;font-size:7.4px;text-align:right;color:#111;transform:scaleX(0.946);transform-origin:100% 50%">46</div>
<div class="t" style="left:272.53px;width:54.94px;top:218.86px;line-height:8.88px;font-size:7.4px;text-align:right;color:#111;transform:scaleX(0.946);transform-origin:100% 50%">38.008</div>
<div class="t" style="left:327.88px;width:54.94px;top:218.86px;line-height:8.88px;font-size:7.4px;text-align:right;color:#111;transform:scaleX(0.946);transform-origin:100% 50%">39.818</div>
<div class="t" style="left:383.22px;width:54.94px;top:218.86px;line-height:8.88px;font-size:7.4px;text-align:right;color:#111;transform:scaleX(0.946);transform-origin:100% 50%">124.948</div>
<div class="t" style="left:438.56px;width:54.94px;top:218.86px;line-height:8.88px;font-size:7.4px;text-align:right;color:#111;transform:scaleX(0.946);transform-origin:100% 50%">4.367</div>
<div class="t" style="left:493.91px;width:54.94px;top:218.86px;line-height:8.88px;font-size:7.4px;text-align:right;color:#111;transform:scaleX(0.946);transform-origin:100% 50%">168.291</div>
<div class="t" style="left:549.25px;width:54.94px;top:218.86px;line-height:8.88px;font-size:7.4px;text-align:right;color:#111;transform:scaleX(0.946);transform-origin:100% 50%">842</div>
<div class="t" style="left:604.59px;width:54.94px;top:218.86px;line-height:8.88px;font-size:7.4px;text-align:right;color:#111;transform:scaleX(0.946);transform-origin:100% 50%">169.133</div>
<div class="t" style="left:659.94px;width:54.94px;top:218.86px;line-height:8.88px;font-size:7.4px;text-align:right;color:#111;transform:scaleX(0.946);transform-origin:100% 50%">1.734</div>
<div class="t" style="left:715.28px;width:54.94px;top:218.86px;line-height:8.88px;font-size:7.4px;text-align:right;color:#111;transform:scaleX(0.946);transform-origin:100% 50%">944.225</div>
<div class="t" style="left:770.62px;width:54.94px;top:218.86px;line-height:8.88px;font-size:7.4px;text-align:right;color:#111;transform:scaleX(0.946);transform-origin:100% 50%">1.645.416</div>
<div class="t" style="left:825.97px;width:54.94px;top:218.86px;line-height:8.88px;font-size:7.4px;text-align:right;color:#111;transform:scaleX(0.946);transform-origin:100% 50%">74.406</div>
<div class="t" style="left:881.31px;width:54.94px;top:218.86px;line-height:8.88px;font-size:7.4px;text-align:right;color:#111;transform:scaleX(0.946);transform-origin:100% 50%">1.719.822</div>
<div class="t" style="left:936.66px;width:54.94px;top:218.86px;line-height:8.88px;font-size:7.4px;text-align:right;color:#111;transform:scaleX(0.946);transform-origin:100% 50%">12.471</div>
<div class="t" style="left:20.80px;width:85.70px;top:229.00px;line-height:8.40px;font-size:7.0px;text-align:left;color:#111">Sicilia</div>
<div class="t" style="left:106.50px;width:54.94px;top:228.46px;line-height:8.88px;font-size:7.4px;text-align:right;color:#111;transform:scaleX(0.946);transform-origin:100% 50%">734</div>
<div class="t" style="left:161.84px;width:54.94px;top:228.46px;line-height:8.88px;font-size:7.4px;text-align:right;color:#111;transform:scaleX(0.946);transform-origin:100% 50%">116</div>
<div class="t" style="left:217.19px;width:54.94px;top:228.46px;line-height:8.88px;font-size:7.4px;text-align:right;color:#111;transform:scaleX(0.946);transform-origin:100% 50%">11</div>
<div class="t" style="left:272.53px;width:54.94px;top:228.46px;line-height:8.88px;font-size:7.4px;text-align:right;color:#111;transform:scaleX(0.946);transform-origin:100% 50%">14.115</div>
<div class="t" style="left:327.88px;width:54.94px;top:228.46px;line-height:8.88px;font-size:7.4px;text-align:right;color:#111;transform:scaleX(0.946);transform-origin:100% 50%">14.965</div>
<div class="t" style="left:383.22px;width:54.94px;top:228.46px;line-height:8.88px;font-size:7.4px;text-align:right;color:#111;transform:scaleX(0.946);transform-origin:100% 50%">143.362</div>
<div class="t" style="left:438.56px;width:54.94px;top:228.46px;line-height:8.88px;font-size:7.4px;text-align:right;color:#111;transform:scaleX(0.946);transform-origin:100% 50%">4.383</div>
<div class="t" style="left:493.91px;width:54.94px;top:228.46px;line-height:8.88px;font-size:7.4px;text-align:right;color:#111;transform:scaleX(0.946);transform-origin:100% 50%">162.710</div>
<div class="t" style="left:549.25px;width:54.94px;top:228.46px;line-height:8.88px;font-size:7.4px;text-align:right;color:#111;transform:scaleX(0.946);transform-origin:100% 50%">0</div>
<div class="t" style="left:604.59px;width:54.94px;top:228.46px;line-height:8.88px;font-size:7.4px;text-align:right;color:#111;transform:scaleX(0.946);transform-origin:100% 50%">162.710</div>
<div class="t" style="left:659.94px;width:54.94px;top:228.46px;line-height:8.88px;font-size:7.4px;text-align:right;color:#111;transform:scaleX(0.946);transform-origin:100% 50%">782</div>
<div class="t" style="left:715.28px;width:54.94px;top:228.46px;line-height:8.88px;font-size:7.4px;text-align:right;color:#111;transform:scaleX(0.946);transform-origin:100% 50%">1.210.951</div>
<div class="t" style="left:770.62px;width:54.94px;top:228.46px;line-height:8.88px;font-size:7.4px;text-align:right;color:#111;transform:scaleX(0.946);transform-origin:100% 50%">1.882.197</div>
<div class="t" style="left:825.97px;width:54.94px;top:228.46px;line-height:8.88px;font-size:7.4px;text-align:right;color:#111;transform:scaleX(0.946);transform-origin:100% 50%">965.988</div>
<div class="t" style="left:881.31px;width:54.94px;top:228.46px;line-height:8.88px;font-size:7.4px;text-align:right;color:#111;transform:scaleX(0.946);transform-origin:100% 50%">2.848.185</div>
<div class="t" style="left:936.66px;width:54.94px;top:228.46px;line-height:8.88px;font-size:7.4px;text-align:right;color:#111;transform:scaleX(0.946);transform-origin:100% 50%">26.527</div>
<div class="t" style="left:20.80px;width:85.70px;top:238.60px;line-height:8.40px;font-size:7.0px;text-align:left;color:#111">Friuli Venezia Giulia</div>
<div class="t" style="left:106.50px;width:54.94px;top:238.06px;line-height:8.88px;font-size:7.4px;text-align:right;color:#111;transform:scaleX(0.946);transform-origin:100% 50%">538</div>
<div class="t" style="left:161.84px;width:54.94px;top:238.06px;line-height:8.88px;font-size:7.4px;text-align:right;color:#111;transform:scaleX(0.946);transform-origin:100% 50%">76</div>
<div class="t" style="left:217.19px;width:54.94px;top:238.06px;line-height:8.88px;font-size:7.4px;text-align:right;color:#111;transform:scaleX(0.946);transform-origin:100% 50%">5</div>
<div class="t" style="left:272.53px;width:54.94px;top:238.06px;line-height:8.88px;font-size:7.4px;text-align:right;color:#111;transform:scaleX(0.946);transform-origin:100% 50%">14.388</div>
<div class="t" style="left:327.88px;width:54.94px;top:238.06px;line-height:8.88px;font-size:7.4px;text-align:right;color:#111;transform:scaleX(0.946);transform-origin:100% 50%">15.002</div>
<div class="t" style="left:383.22px;width:54.94px;top:238.06px;line-height:8.88px;font-size:7.4px;text-align:right;color:#111;transform:scaleX(0.946);transform-origin:100% 50%">70.144</div>
<div class="t" style="left:438.56px;width:54.94px;top:238.06px;line-height:8.88px;font-size:7.4px;text-align:right;color:#111;transform:scaleX(0.946);transform-origin:100% 50%">3.057</div>
<div class="t" style="left:493.91px;width:54.94px;top:238.06px;line-height:8.88px;font-size:7.4px;text-align:right;color:#111;transform:scaleX(0.946);transform-origin:100% 50%">78.958</div>
<div class="t" style="left:549.25px;width:54.94px;top:238.06px;line-height:8.88px;font-size:7.4px;text-align:right;color:#111;transform:scaleX(0.946);transform-origin:100% 50%">9.245</div>
<div class="t" style="left:604.59px;width:54.94px;top:238.06px;line-height:8.88px;font-size:7.4px;text-align:right;color:#111;transform:scaleX(0.946);transform-origin:100% 50%">88.203</div>
<div class="t" style="left:659.94px;width:54.94px;top:238.06px;line-height:8.88px;font-size:7.4px;text-align:right;color:#111;transform:scaleX(0.946);transform-origin:100% 50%">986</div>
<div class="t" style="left:715.28px;width:54.94px;top:238.06px;line-height:8.88px;font-size:7.4px;text-align:right;color:#111;transform:scaleX(0.946);transform-origin:100% 50%">535.476</div>
<div class="t" style="left:770.62px;width:54.94px;top:238.06px;line-height:8.88px;font-size:7.4px;text-align:right;color:#111;transform:scaleX(0.946);transform-origin:100% 50%">1.350.481</div>
<div class="t" style="left:825.97px;width:54.94px;top:238.06px;line-height:8.88px;font-size:7.4px;text-align:right;color:#111;transform:scaleX(0.946);transform-origin:100% 50%">144.774</div>
<div class="t" style="left:881.31px;width:54.94px;top:238.06px;line-height:8.88px;font-size:7.4px;text-align:right;color:#111;transform:scaleX(0.946);transform-origin:100% 50%">1.495.255</div>
<div class="t" style="left:936.66px;width:54.94px;top:238.06px;line-height:8.88px;font-size:7.4px;text-align:right;color:#111;transform:scaleX(0.946);transform-origin:100% 50%">13.904</div>
<div class="t" style="left:20.80px;width:85.70px;top:248.20px;line-height:8.40px;font-size:7.0px;text-align:left;color:#111">Liguria</div>
<div class="t" style="left:106.50px;width:54.94px;top:247.66px;line-height:8.88px;font-size:7.4px;text-align:right;color:#111;transform:scaleX(0.946);transform-origin:100% 50%">574</div>
<div class="t" style="left:161.84px;width:54.94px;top:247.66px;line-height:8.88px;font-size:7.4px;text-align:right;color:#111;transform:scaleX(0.946);transform-origin:100% 50%">63</div>
<div class="t" style="left:217.19px;width:54.94px;top:247.66px;line-height:8.88px;font-size:7.4px;text-align:right;color:#111;transform:scaleX(0.946);transform-origin:100% 50%">4</div>
<div class="t" style="left:272.53px;width:54.94px;top:247.66px;line-height:8.88px;font-size:7.4px;text-align:right;color:#111;transform:scaleX(0.946);transform-origin:100% 50%">5.530</div>
<div class="t" style="left:327.88px;width:54.94px;top:247.66px;line-height:8.88px;font-size:7.4px;text-align:right;color:#111;transform:scaleX(0.946);transform-origin:100% 50%">6.167</div>
<div class="t" style="left:383.22px;width:54.94px;top:247.66px;line-height:8.88px;font-size:7.4px;text-align:right;color:#111;transform:scaleX(0.946);transform-origin:100% 50%">73.614</div>
<div class="t" style="left:438.56px;width:54.94px;top:247.66px;line-height:8.88px;font-size:7.4px;text-align:right;color:#111;transform:scaleX(0.946);transform-origin:100% 50%">3.769</div>
<div class="t" style="left:493.91px;width:54.94px;top:247.66px;line-height:8.88px;font-size:7.4px;text-align:right;color:#111;transform:scaleX(0.946);transform-origin:100% 50%">83.550</div>
<div class="t" style="left:549.25px;width:54.94px;top:247.66px;line-height:8.88px;font-size:7.4px;text-align:right;color:#111;transform:scaleX(0.946);transform-origin:100% 50%">0</div>
<div class="t" style="left:604.59px;width:54.94px;top:247.66px;line-height:8.88px;font-size:7.4px;text-align:right;color:#111;transform:scaleX(0.946);transform-origin:100% 50%">83.550</div>
<div class="t" style="left:659.94px;width:54.94px;top:247.66px;line-height:8.88px;font-size:7.4px;text-align:right;color:#111;transform:scaleX(0.946);transform-origin:100% 50%">321</div>
<div class="t" style="left:715.28px;width:54.94px;top:247.66px;line-height:8.88px;font-size:7.4px;text-align:right;color:#111;transform:scaleX(0.946);transform-origin:100% 50%">482.547</div>
<div class="t" style="left:770.62px;width:54.94px;top:247.66px;line-height:8.88px;font-size:7.4px;text-align:right;color:#111;transform:scaleX(0.946);transform-origin:100% 50%">996.899</div>
<div class="t" style="left:825.97px;width:54.94px;top:247.66px;line-height:8.88px;font-size:7.4px;text-align:right;color:#111;transform:scaleX(0.946);transform-origin:100% 50%">146.953</div>
<div class="t" style="left:881.31px;width:54.94px;top:247.66px;line-height:8.88px;font-size:7.4px;text-align:right;color:#111;transform:scaleX(0.946);transform-origin:100% 50%">1.143.852</div>
<div class="t" style="left:936.66px;width:54.94px;top:247.66px;line-height:8.88px;font-size:7.4px;text-align:right;color:#111;transform:scaleX(0.946);transform-origin:100% 50%">7.771</div>
<div class="t" style="left:20.80px;width:85.70px;top:257.80px;line-height:8.40px;font-size:7.0px;text-align:left;color:#111">Marche</div>
<div class="t" style="left:106.50px;width:54.94px;top:257.26px;line-height:8.88px;font-size:7.4px;text-align:right;color:#111;transform:scaleX(0.946);transform-origin:100% 50%">747</div>
<div class="t" style="left:161.84px;width:54.94px;top:257.26px;line-height:8.88px;font-size:7.4px;text-align:right;color:#111;transform:scaleX(0.946);transform-origin:100% 50%">133</div>
<div class="t" style="left:217.19px;width:54.94px;top:257.26px;line-height:8.88px;font-size:7.4px;text-align:right;color:#111;transform:scaleX(0.946);transform-origin:100% 50%">11</div>
<div class="t" style="left:272.53px;width:54.94px;top:257.26px;line-height:8.88px;font-size:7.4px;text-align:right;color:#111;transform:scaleX(0.946);transform-origin:100% 50%">9.237</div>
<div class="t" style="left:327.88px;width:54.94px;top:257.26px;line-height:8.88px;font-size:7.4px;text-align:right;color:#111;transform:scaleX(0.946);transform-origin:100% 50%">10.117</div>
<div class="t" style="left:383.22px;width:54.94px;top:257.26px;line-height:8.88px;font-size:7.4px;text-align:right;color:#111;transform:scaleX(0.946);transform-origin:100% 50%">67.406</div>
<div class="t" style="left:438.56px;width:54.94px;top:257.26px;line-height:8.88px;font-size:7.4px;text-align:right;color:#111;transform:scaleX(0.946);transform-origin:100% 50%">2.452</div>
<div class="t" style="left:493.91px;width:54.94px;top:257.26px;line-height:8.88px;font-size:7.4px;text-align:right;color:#111;transform:scaleX(0.946);transform-origin:100% 50%">79.975</div>
<div class="t" style="left:549.25px;width:54.94px;top:257.26px;line-height:8.88px;font-size:7.4px;text-align:right;color:#111;transform:scaleX(0.946);transform-origin:100% 50%">0</div>
<div class="t" style="left:604.59px;width:54.94px;top:257.26px;line-height:8.88px;font-size:7.4px;text-align:right;color:#111;transform:scaleX(0.946);transform-origin:100% 50%">79.975</div>
<div class="t" style="left:659.94px;width:54.94px;top:257.26px;line-height:8.88px;font-size:7.4px;text-align:right;color:#111;transform:scaleX(0.946);transform-origin:100% 50%">856</div>
<div class="t" style="left:715.28px;width:54.94px;top:257.26px;line-height:8.88px;font-size:7.4px;text-align:right;color:#111;transform:scaleX(0.946);transform-origin:100% 50%">570.398</div>
<div class="t" style="left:770.62px;width:54.94px;top:257.26px;line-height:8.88px;font-size:7.4px;text-align:right;color:#111;transform:scaleX(0.946);transform-origin:100% 50%">846.532</div>
<div class="t" style="left:825.97px;width:54.94px;top:257.26px;line-height:8.88px;font-size:7.4px;text-align:right;color:#111;transform:scaleX(0.946);transform-origin:100% 50%">88.014</div>
<div class="t" style="left:881.31px;width:54.94px;top:257.26px;line-height:8.88px;font-size:7.4px;text-align:right;color:#111;transform:scaleX(0.946);transform-origin:100% 50%">934.546</div>
<div class="t" style="left:936.66px;width:54.94px;top:257.26px;line-height:8.88px;font-size:7.4px;text-align:right;color:#111;transform:scaleX(0.946);transform-origin:100% 50%">7.611</div>
<div class="t" style="left:20.80px;width:85.70px;top:267.40px;line-height:8.40px;font-size:7.0px;text-align:left;color:#111">Abruzzo</div>
<div class="t" style="left:106.50px;width:54.94px;top:266.86px;line-height:8.88px;font-size:7.4px;text-align:right;color:#111;transform:scaleX(0.946);transform-origin:100% 50%">667</div>
<div class="t" style="left:161.84px;width:54.94px;top:266.86px;line-height:8.88px;font-size:7.4px;text-align:right;color:#111;transform:scaleX(0.946);transform-origin:100% 50%">89</div>
<div class="t" style="left:217.19px;width:54.94px;top:266.86px;line-height:8.88px;font-size:7.4px;text-align:right;color:#111;transform:scaleX(0.946);transform-origin:100% 50%">6</div>
<div class="t" style="left:272.53px;width:54.94px;top:266.86px;line-height:8.88px;font-size:7.4px;text-align:right;color:#111;transform:scaleX(0.946);transform-origin:100% 50%">10.922</div>
<div class="t" style="left:327.88px;width:54.94px;top:266.86px;line-height:8.88px;font-size:7.4px;text-align:right;color:#111;transform:scaleX(0.946);transform-origin:100% 50%">11.678</div>
<div class="t" style="left:383.22px;width:54.94px;top:266.86px;line-height:8.88px;font-size:7.4px;text-align:right;color:#111;transform:scaleX(0.946);transform-origin:100% 50%">47.316</div>
<div class="t" style="left:438.56px;width:54.94px;top:266.86px;line-height:8.88px;font-size:7.4px;text-align:right;color:#111;transform:scaleX(0.946);transform-origin:100% 50%">1.934</div>
<div class="t" style="left:493.91px;width:54.94px;top:266.86px;line-height:8.88px;font-size:7.4px;text-align:right;color:#111;transform:scaleX(0.946);transform-origin:100% 50%">60.928</div>
<div class="t" style="left:549.25px;width:54.94px;top:266.86px;line-height:8.88px;font-size:7.4px;text-align:right;color:#111;transform:scaleX(0.946);transform-origin:100% 50%">0</div>
<div class="t" style="left:604.59px;width:54.94px;top:266.86px;line-height:8.88px;font-size:7.4px;text-align:right;color:#111;transform:scaleX(0.946);transform-origin:100% 50%">60.928</div>
<div class="t" style="left:659.94px;width:54.94px;top:266.86px;line-height:8.88px;font-size:7.4px;text-align:right;color:#111;transform:scaleX(0.946);transform-origin:100% 50%">304</div>
<div class="t" style="left:715.28px;width:54.94px;top:266.86px;line-height:8.88px;font-size:7.4px;text-align:right;color:#111;transform:scaleX(0.946);transform-origin:100% 50%">552.013</div>
<div class="t" style="left:770.62px;width:54.94px;top:266.86px;line-height:8.88px;font-size:7.4px;text-align:right;color:#111;transform:scaleX(0.946);transform-origin:100% 50%">827.693</div>
<div class="t" style="left:825.97px;width:54.94px;top:266.86px;line-height:8.88px;font-size:7.4px;text-align:right;color:#111;transform:scaleX(0.946);transform-origin:100% 50%">323.314</div>
<div class="t" style="left:881.31px;width:54.94px;top:266.86px;line-height:8.88px;font-size:7.4px;text-align:right;color:#111;transform:scaleX(0.946);transform-origin:100% 50%">1.151.007</div>
<div class="t" style="left:936.66px;width:54.94px;top:266.86px;line-height:8.88px;font-size:7.4px;text-align:right;color:#111;transform:scaleX(0.946);transform-origin:100% 50%">8.476</div>
<div class="t" style="left:20.80px;width:85.70px;top:277.00px;line-height:8.40px;font-size:7.0px;text-align:left;color:#111">P.A. Bolzano</div>
<div class="t" style="left:106.50px;width:54.94px;top:276.46px;line-height:8.88px;font-size:7.4px;text-align:right;color:#111;transform:scaleX(0.946);transform-origin:100% 50%">141</div>
<div class="t" style="left:161.84px;width:54.94px;top:276.46px;line-height:8.88px;font-size:7.4px;text-align:right;color:#111;transform:scaleX(0.946);transform-origin:100% 50%">33</div>
<div class="t" style="left:217.19px;width:54.94px;top:276.46px;line-height:8.88px;font-size:7.4px;text-align:right;color:#111;transform:scaleX(0.946);transform-origin:100% 50%">1</div>
<div class="t" style="left:272.53px;width:54.94px;top:276.46px;line-height:8.88px;font-size:7.4px;text-align:right;color:#111;transform:scaleX(0.946);transform-origin:100% 50%">3.540</div>
<div class="t" style="left:327.88px;width:54.94px;top:276.46px;line-height:8.88px;font-size:7.4px;text-align:right;color:#111;transform:scaleX(0.946);transform-origin:100% 50%">3.714</div>
<div class="t" style="left:383.22px;width:54.94px;top:276.46px;line-height:8.88px;font-size:7.4px;text-align:right;color:#111;transform:scaleX(0.946);transform-origin:100% 50%">51.879</div>
<div class="t" style="left:438.56px;width:54.94px;top:276.46px;line-height:8.88px;font-size:7.4px;text-align:right;color:#111;transform:scaleX(0.946);transform-origin:100% 50%">1.092</div>
<div class="t" style="left:493.91px;width:54.94px;top:276.46px;line-height:8.88px;font-size:7.4px;text-align:right;color:#111;transform:scaleX(0.946);transform-origin:100% 50%">44.733</div>
<div class="t" style="left:549.25px;width:54.94px;top:276.46px;line-height:8.88px;font-size:7.4px;text-align:right;color:#111;transform:scaleX(0.946);transform-origin:100% 50%">11.952</div>
<div class="t" style="left:604.59px;width:54.94px;top:276.46px;line-height:8.88px;font-size:7.4px;text-align:right;color:#111;transform:scaleX(0.946);transform-origin:100% 50%">56.685</div>
<div class="t" style="left:659.94px;width:54.94px;top:276.46px;line-height:8.88px;font-size:7.4px;text-align:right;color:#111;transform:scaleX(0.946);transform-origin:100% 50%">158</div>
<div class="t" style="left:715.28px;width:54.94px;top:276.46px;line-height:8.88px;font-size:7.4px;text-align:right;color:#111;transform:scaleX(0.946);transform-origin:100% 50%">201.697</div>
<div class="t" style="left:770.62px;width:54.94px;top:276.46px;line-height:8.88px;font-size:7.4px;text-align:right;color:#111;transform:scaleX(0.946);transform-origin:100% 50%">515.506</div>
<div class="t" style="left:825.97px;width:54.94px;top:276.46px;line-height:8.88px;font-size:7.4px;text-align:right;color:#111;transform:scaleX(0.946);transform-origin:100% 50%">465.039</div>
<div class="t" style="left:881.31px;width:54.94px;top:276.46px;line-height:8.88px;font-size:7.4px;text-align:right;color:#111;transform:scaleX(0.946);transform-origin:100% 50%">980.545</div>
<div class="t" style="left:936.66px;width:54.94px;top:276.46px;line-height:8.88px;font-size:7.4px;text-align:right;color:#111;transform:scaleX(0.946);transform-origin:100% 50%">12.433</div>
<div class="t" style="left:20.80px;width:85.70px;top:286.60px;line-height:8.40px;font-size:7.0px;text-align:left;color:#111">Umbria</div>
<div class="t" style="left:106.50px;width:54.94px;top:286.06px;line-height:8.88px;font-size:7.4px;text-align:right;color:#111;transform:scaleX(0.946);transform-origin:100% 50%">406</div>
<div class="t" style="left:161.84px;width:54.94px;top:286.06px;line-height:8.88px;font-size:7.4px;text-align:right;color:#111;transform:scaleX(0.946);transform-origin:100% 50%">79</div>
<div class="t" style="left:217.19px;width:54.94px;top:286.06px;line-height:8.88px;font-size:7.4px;text-align:right;color:#111;transform:scaleX(0.946);transform-origin:100% 50%">6</div>
<div class="t" style="left:272.53px;width:54.94px;top:286.06px;line-height:8.88px;font-size:7.4px;text-align:right;color:#111;transform:scaleX(0.946);transform-origin:100% 50%">5.419</div>
<div class="t" style="left:327.88px;width:54.94px;top:286.06px;line-height:8.88px;font-size:7.4px;text-align:right;color:#111;transform:scaleX(0.946);transform-origin:100% 50%">5.904</div>
<div class="t" style="left:383.22px;width:54.94px;top:286.06px;line-height:8.88px;font-size:7.4px;text-align:right;color:#111;transform:scaleX(0.946);transform-origin:100% 50%">41.441</div>
<div class="t" style="left:438.56px;width:54.94px;top:286.06px;line-height:8.88px;font-size:7.4px;text-align:right;color:#111;transform:scaleX(0.946);transform-origin:100% 50%">1.181</div>
<div class="t" style="left:493.91px;width:54.94px;top:286.06px;line-height:8.88px;font-size:7.4px;text-align:right;color:#111;transform:scaleX(0.946);transform-origin:100% 50%">48.526</div>
<div class="t" style="left:549.25px;width:54.94px;top:286.06px;line-height:8.88px;font-size:7.4px;text-align:right;color:#111;transform:scaleX(0.946);transform-origin:100% 50%">0</div>
<div class="t" style="left:604.59px;width:54.94px;top:286.06px;line-height:8.88px;font-size:7.4px;text-align:right;color:#111;transform:scaleX(0.946);transform-origin:100% 50%">48.526</div>
<div class="t" style="left:659.94px;width:54.94px;top:286.06px;line-height:8.88px;font-size:7.4px;text-align:right;color:#111;transform:scaleX(0.946);transform-origin:100% 50%">324</div>
<div class="t" style="left:715.28px;width:54.94px;top:286.06px;line-height:8.88px;font-size:7.4px;text-align:right;color:#111;transform:scaleX(0.946);transform-origin:100% 50%">327.622</div>
<div class="t" style="left:770.62px;width:54.94px;top:286.06px;line-height:8.88px;font-size:7.4px;text-align:right;color:#111;transform:scaleX(0.946);transform-origin:100% 50%">748.723</div>
<div class="t" style="left:825.97px;width:54.94px;top:286.06px;line-height:8.88px;font-size:7.4px;text-align:right;color:#111;transform:scaleX(0.946);transform-origin:100% 50%">160.434</div>
<div class="t" style="left:881.31px;width:54.94px;top:286.06px;line-height:8.88px;font-size:7.4px;text-align:right;color:#111;transform:scaleX(0.946);transform-origin:100% 50%">909.157</div>
<div class="t" style="left:936.66px;width:54.94px;top:286.06px;line-height:8.88px;font-size:7.4px;text-align:right;color:#111;transform:scaleX(0.946);transform-origin:100% 50%">6.549</div>
<div class="t" style="left:20.80px;width:85.70px;top:296.20px;line-height:8.40px;font-size:7.0px;text-align:left;color:#111">Sardegna</div>
<div class="t" style="left:106.50px;width:54.94px;top:295.66px;line-height:8.88px;font-size:7.4px;text-align:right;color:#111;transform:scaleX(0.946);transform-origin:100% 50%">163</div>
<div class="t" style="left:161.84px;width:54.94px;top:295.66px;line-height:8.88px;font-size:7.4px;text-align:right;color:#111;transform:scaleX(0.946);transform-origin:100% 50%">29</div>
<div class="t" style="left:217.19px;width:54.94px;top:295.66px;line-height:8.88px;font-size:7.4px;text-align:right;color:#111;transform:scaleX(0.946);transform-origin:100% 50%">1</div>
<div class="t" style="left:272.53px;width:54.94px;top:295.66px;line-height:8.88px;font-size:7.4px;text-align:right;color:#111;transform:scaleX(0.946);transform-origin:100% 50%">12.627</div>
<div class="t" style="left:327.88px;width:54.94px;top:295.66px;line-height:8.88px;font-size:7.4px;text-align:right;color:#111;transform:scaleX(0.946);transform-origin:100% 50%">12.819</div>
<div class="t" style="left:383.22px;width:54.94px;top:295.66px;line-height:8.88px;font-size:7.4px;text-align:right;color:#111;transform:scaleX(0.946);transform-origin:100% 50%">28.705</div>
<div class="t" style="left:438.56px;width:54.94px;top:295.66px;line-height:8.88px;font-size:7.4px;text-align:right;color:#111;transform:scaleX(0.946);transform-origin:100% 50%">1.200</div>
<div class="t" style="left:493.91px;width:54.94px;top:295.66px;line-height:8.88px;font-size:7.4px;text-align:right;color:#111;transform:scaleX(0.946);transform-origin:100% 50%">42.708</div>
<div class="t" style="left:549.25px;width:54.94px;top:295.66px;line-height:8.88px;font-size:7.4px;text-align:right;color:#111;transform:scaleX(0.946);transform-origin:100% 50%">16</div>
<div class="t" style="left:604.59px;width:54.94px;top:295.66px;line-height:8.88px;font-size:7.4px;text-align:right;color:#111;transform:scaleX(0.946);transform-origin:100% 50%">42.724</div>
<div class="t" style="left:659.94px;width:54.94px;top:295.66px;line-height:8.88px;font-size:7.4px;text-align:right;color:#111;transform:scaleX(0.946);transform-origin:100% 50%">92</div>
<div class="t" style="left:715.28px;width:54.94px;top:295.66px;line-height:8.88px;font-size:7.4px;text-align:right;color:#111;transform:scaleX(0.946);transform-origin:100% 50%">564.522</div>
<div class="t" style="left:770.62px;width:54.94px;top:295.66px;line-height:8.88px;font-size:7.4px;text-align:right;color:#111;transform:scaleX(0.946);transform-origin:100% 50%">674.087</div>
<div class="t" style="left:825.97px;width:54.94px;top:295.66px;line-height:8.88px;font-size:7.4px;text-align:right;color:#111;transform:scaleX(0.946);transform-origin:100% 50%">212.040</div>
<div class="t" style="left:881.31px;width:54.94px;top:295.66px;line-height:8.88px;font-size:7.4px;text-align:right;color:#111;transform:scaleX(0.946);transform-origin:100% 50%">886.127</div>
<div class="t" style="left:936.66px;width:54.94px;top:295.66px;line-height:8.88px;font-size:7.4px;text-align:right;color:#111;transform:scaleX(0.946);transform-origin:100% 50%">12.190</div>
<div class="t" style="left:20.80px;width:85.70px;top:305.80px;line-height:8.40px;font-size:7.0px;text-align:left;color:#111">Calabria</div>
<div class="t" style="left:106.50px;width:54.94px;top:305.26px;line-height:8.88px;font-size:7.4px;text-align:right;color:#111;transform:scaleX(0.946);transform-origin:100% 50%">283</div>
<div class="t" style="left:161.84px;width:54.94px;top:305.26px;line-height:8.88px;font-size:7.4px;text-align:right;color:#111;transform:scaleX(0.946);transform-origin:100% 50%">28</div>
<div class="t" style="left:217.19px;width:54.94px;top:305.26px;line-height:8.88px;font-size:7.4px;text-align:right;color:#111;transform:scaleX(0.946);transform-origin:100% 50%">2</div>
<div class="t" style="left:272.53px;width:54.94px;top:305.26px;line-height:8.88px;font-size:7.4px;text-align:right;color:#111;transform:scaleX(0.946);transform-origin:100% 50%">7.483</div>
<div class="t" style="left:327.88px;width:54.94px;top:305.26px;line-height:8.88px;font-size:7.4px;text-align:right;color:#111;transform:scaleX(0.946);transform-origin:100% 50%">7.794</div>
<div class="t" style="left:383.22px;width:54.94px;top:305.26px;line-height:8.88px;font-size:7.4px;text-align:right;color:#111;transform:scaleX(0.946);transform-origin:100% 50%">33.385</div>
<div class="t" style="left:438.56px;width:54.94px;top:305.26px;line-height:8.88px;font-size:7.4px;text-align:right;color:#111;transform:scaleX(0.946);transform-origin:100% 50%">746</div>
<div class="t" style="left:493.91px;width:54.94px;top:305.26px;line-height:8.88px;font-size:7.4px;text-align:right;color:#111;transform:scaleX(0.946);transform-origin:100% 50%">41.919</div>
<div class="t" style="left:549.25px;width:54.94px;top:305.26px;line-height:8.88px;font-size:7.4px;text-align:right;color:#111;transform:scaleX(0.946);transform-origin:100% 50%">6</div>
<div class="t" style="left:604.59px;width:54.94px;top:305.26px;line-height:8.88px;font-size:7.4px;text-align:right;color:#111;transform:scaleX(0.946);transform-origin:100% 50%">41.925</div>
<div class="t" style="left:659.94px;width:54.94px;top:305.26px;line-height:8.88px;font-size:7.4px;text-align:right;color:#111;transform:scaleX(0.946);transform-origin:100% 50%">216</div>
<div class="t" style="left:715.28px;width:54.94px;top:305.26px;line-height:8.88px;font-size:7.4px;text-align:right;color:#111;transform:scaleX(0.946);transform-origin:100% 50%">590.565</div>
<div class="t" style="left:770.62px;width:54.94px;top:305.26px;line-height:8.88px;font-size:7.4px;text-align:right;color:#111;transform:scaleX(0.946);transform-origin:100% 50%">611.654</div>
<div class="t" style="left:825.97px;width:54.94px;top:305.26px;line-height:8.88px;font-size:7.4px;text-align:right;color:#111;transform:scaleX(0.946);transform-origin:100% 50%">15.408</div>
<div class="t" style="left:881.31px;width:54.94px;top:305.26px;line-height:8.88px;font-size:7.4px;text-align:right;color:#111;transform:scaleX(0.946);transform-origin:100% 50%">627.062</div>
<div class="t" style="left:936.66px;width:54.94px;top:305.26px;line-height:8.88px;font-size:7.4px;text-align:right;color:#111;transform:scaleX(0.946);transform-origin:100% 50%">3.110</div>
<div class="t" style="left:20.80px;width:85.70px;top:315.40px;line-height:8.40px;font-size:7.0px;text-align:left;color:#111">P.A. Trento</div>
<div class="t" style="left:106.50px;width:54.94px;top:314.86px;line-height:8.88px;font-size:7.4px;text-align:right;color:#111;transform:scaleX(0.946);transform-origin:100% 50%">199</div>
<div class="t" style="left:161.84px;width:54.94px;top:314.86px;line-height:8.88px;font-size:7.4px;text-align:right;color:#111;transform:scaleX(0.946);transform-origin:100% 50%">54</div>
<div class="t" style="left:217.19px;width:54.94px;top:314.86px;line-height:8.88px;font-size:7.4px;text-align:right;color:#111;transform:scaleX(0.946);transform-origin:100% 50%">4</div>
<div class="t" style="left:272.53px;width:54.94px;top:314.86px;line-height:8.88px;font-size:7.4px;text-align:right;color:#111;transform:scaleX(0.946);transform-origin:100% 50%">3.718</div>
<div class="t" style="left:327.88px;width:54.94px;top:314.86px;line-height:8.88px;font-size:7.4px;text-align:right;color:#111;transform:scaleX(0.946);transform-origin:100% 50%">3.971</div>
<div class="t" style="left:383.22px;width:54.94px;top:314.86px;line-height:8.88px;font-size:7.4px;text-align:right;color:#111;transform:scaleX(0.946);transform-origin:100% 50%">33.152</div>
<div class="t" style="left:438.56px;width:54.94px;top:314.86px;line-height:8.88px;font-size:7.4px;text-align:right;color:#111;transform:scaleX(0.946);transform-origin:100% 50%">1.246</div>
<div class="t" style="left:493.91px;width:54.94px;top:314.86px;line-height:8.88px;font-size:7.4px;text-align:right;color:#111;transform:scaleX(0.946);transform-origin:100% 50%">29.209</div>
<div class="t" style="left:549.25px;width:54.94px;top:314.86px;line-height:8.88px;font-size:7.4px;text-align:right;color:#111;transform:scaleX(0.946);transform-origin:100% 50%">9.160</div>
<div class="t" style="left:604.59px;width:54.94px;top:314.86px;line-height:8.88px;font-size:7.4px;text-align:right;color:#111;transform:scaleX(0.946);transform-origin:100% 50%">38.369</div>
<div class="t" style="left:659.94px;width:54.94px;top:314.86px;line-height:8.88px;font-size:7.4px;text-align:right;color:#111;transform:scaleX(0.946);transform-origin:100% 50%">285</div>
<div class="t" style="left:715.28px;width:54.94px;top:314.86px;line-height:8.88px;font-size:7.4px;text-align:right;color:#111;transform:scaleX(0.946);transform-origin:100% 50%">178.825</div>
<div class="t" style="left:770.62px;width:54.94px;top:314.86px;line-height:8.88px;font-size:7.4px;text-align:right;color:#111;transform:scaleX(0.946);transform-origin:100% 50%">579.612</div>
<div class="t" style="left:825.97px;width:54.94px;top:314.86px;line-height:8.88px;font-size:7.4px;text-align:right;color:#111;transform:scaleX(0.946);transform-origin:100% 50%">83.751</div>
<div class="t" style="left:881.31px;width:54.94px;top:314.86px;line-height:8.88px;font-size:7.4px;text-align:right;color:#111;transform:scaleX(0.946);transform-origin:100% 50%">663.363</div>
<div class="t" style="left:936.66px;width:54.94px;top:314.86px;line-height:8.88px;font-size:7.4px;text-align:right;color:#111;transform:scaleX(0.946);transform-origin:100% 50%">3.346</div>
<div class="t" style="left:20.80px;width:85.70px;top:325.00px;line-height:8.40px;font-size:7.0px;text-align:left;color:#111">Basilicata</div>
<div class="t" style="left:106.50px;width:54.94px;top:324.46px;line-height:8.88px;font-size:7.4px;text-align:right;color:#111;transform:scaleX(0.946);transform-origin:100% 50%">159</div>
<div class="t" style="left:161.84px;width:54.94px;top:324.46px;line-height:8.88px;font-size:7.4px;text-align:right;color:#111;transform:scaleX(0.946);transform-origin:100% 50%">14</div>
<div class="t" style="left:217.19px;width:54.94px;top:324.46px;line-height:8.88px;font-size:7.4px;text-align:right;color:#111;transform:scaleX(0.946);transform-origin:100% 50%">0</div>
<div class="t" style="left:272.53px;width:54.94px;top:324.46px;line-height:8.88px;font-size:7.4px;text-align:right;color:#111;transform:scaleX(0.946);transform-origin:100% 50%">4.012</div>
<div class="t" style="left:327.88px;width:54.94px;top:324.46px;line-height:8.88px;font-size:7.4px;text-align:right;color:#111;transform:scaleX(0.946);transform-origin:100% 50%">4.185</div>
<div class="t" style="left:383.22px;width:54.94px;top:324.46px;line-height:8.88px;font-size:7.4px;text-align:right;color:#111;transform:scaleX(0.946);transform-origin:100% 50%">13.226</div>
<div class="t" style="left:438.56px;width:54.94px;top:324.46px;line-height:8.88px;font-size:7.4px;text-align:right;color:#111;transform:scaleX(0.946);transform-origin:100% 50%">397</div>
<div class="t" style="left:493.91px;width:54.94px;top:324.46px;line-height:8.88px;font-size:7.4px;text-align:right;color:#111;transform:scaleX(0.946);transform-origin:100% 50%">17.808</div>
<div class="t" style="left:549.25px;width:54.94px;top:324.46px;line-height:8.88px;font-size:7.4px;text-align:right;color:#111;transform:scaleX(0.946);transform-origin:100% 50%">0</div>
<div class="t" style="left:604.59px;width:54.94px;top:324.46px;line-height:8.88px;font-size:7.4px;text-align:right;color:#111;transform:scaleX(0.946);transform-origin:100% 50%">17.808</div>
<div class="t" style="left:659.94px;width:54.94px;top:324.46px;line-height:8.88px;font-size:7.4px;text-align:right;color:#111;transform:scaleX(0.946);transform-origin:100% 50%">126</div>
<div class="t" style="left:715.28px;width:54.94px;top:324.46px;line-height:8.88px;font-size:7.4px;text-align:right;color:#111;transform:scaleX(0.946);transform-origin:100% 50%">160.279</div>
<div class="t" style="left:770.62px;width:54.94px;top:324.46px;line-height:8.88px;font-size:7.4px;text-align:right;color:#111;transform:scaleX(0.946);transform-origin:100% 50%">263.963</div>
<div class="t" style="left:825.97px;width:54.94px;top:324.46px;line-height:8.88px;font-size:7.4px;text-align:right;color:#111;transform:scaleX(0.946);transform-origin:100% 50%">11.663</div>
<div class="t" style="left:881.31px;width:54.94px;top:324.46px;line-height:8.88px;font-size:7.4px;text-align:right;color:#111;transform:scaleX(0.946);transform-origin:100% 50%">275.626</div>
<div class="t" style="left:936.66px;width:54.94px;top:324.46px;line-height:8.88px;font-size:7.4px;text-align:right;color:#111;transform:scaleX(0.946);transform-origin:100% 50%">1.478</div>
<div class="t" style="left:20.80px;width:85.70px;top:334.60px;line-height:8.40px;font-size:7.0px;text-align:left;color:#111">Molise</div>
<div class="t" style="left:106.50px;width:54.94px;top:334.06px;line-height:8.88px;font-size:7.4px;text-align:right;color:#111;transform:scaleX(0.946);transform-origin:100% 50%">96</div>
<div class="t" style="left:161.84px;width:54.94px;top:334.06px;line-height:8.88px;font-size:7.4px;text-align:right;color:#111;transform:scaleX(0.946);transform-origin:100% 50%">17</div>
<div class="t" style="left:217.19px;width:54.94px;top:334.06px;line-height:8.88px;font-size:7.4px;text-align:right;color:#111;transform:scaleX(0.946);transform-origin:100% 50%">0</div>
<div class="t" style="left:272.53px;width:54.94px;top:334.06px;line-height:8.88px;font-size:7.4px;text-align:right;color:#111;transform:scaleX(0.946);transform-origin:100% 50%">1.343</div>
<div class="t" style="left:327.88px;width:54.94px;top:334.06px;line-height:8.88px;font-size:7.4px;text-align:right;color:#111;transform:scaleX(0.946);transform-origin:100% 50%">1.456</div>
<div class="t" style="left:383.22px;width:54.94px;top:334.06px;line-height:8.88px;font-size:7.4px;text-align:right;color:#111;transform:scaleX(0.946);transform-origin:100% 50%">9.877</div>
<div class="t" style="left:438.56px;width:54.94px;top:334.06px;line-height:8.88px;font-size:7.4px;text-align:right;color:#111;transform:scaleX(0.946);transform-origin:100% 50%">406</div>
<div class="t" style="left:493.91px;width:54.94px;top:334.06px;line-height:8.88px;font-size:7.4px;text-align:right;color:#111;transform:scaleX(0.946);transform-origin:100% 50%">11.739</div>
<div class="t" style="left:549.25px;width:54.94px;top:334.06px;line-height:8.88px;font-size:7.4px;text-align:right;color:#111;transform:scaleX(0.946);transform-origin:100% 50%">0</div>
<div class="t" style="left:604.59px;width:54.94px;top:334.06px;line-height:8.88px;font-size:7.4px;text-align:right;color:#111;transform:scaleX(0.946);transform-origin:100% 50%">11.739</div>
<div class="t" style="left:659.94px;width:54.94px;top:334.06px;line-height:8.88px;font-size:7.4px;text-align:right;color:#111;transform:scaleX(0.946);transform-origin:100% 50%">77</div>
<div class="t" style="left:715.28px;width:54.94px;top:334.06px;line-height:8.88px;font-size:7.4px;text-align:right;color:#111;transform:scaleX(0.946);transform-origin:100% 50%">159.159</div>
<div class="t" style="left:770.62px;width:54.94px;top:334.06px;line-height:8.88px;font-size:7.4px;text-align:right;color:#111;transform:scaleX(0.946);transform-origin:100% 50%">175.321</div>
<div class="t" style="left:825.97px;width:54.94px;top:334.06px;line-height:8.88px;font-size:7.4px;text-align:right;color:#111;transform:scaleX(0.946);transform-origin:100% 50%">293</div>
<div class="t" style="left:881.31px;width:54.94px;top:334.06px;line-height:8.88px;font-size:7.4px;text-align:right;color:#111;transform:scaleX(0.946);transform-origin:100% 50%">175.614</div>
<div class="t" style="left:936.66px;width:54.94px;top:334.06px;line-height:8.88px;font-size:7.4px;text-align:right;color:#111;transform:scaleX(0.946);transform-origin:100% 50%">1.124</div>
<div class="t" style="left:20.80px;width:85.70px;top:344.20px;line-height:8.40px;font-size:7.0px;text-align:left;color:#111">Valle d'Aosta</div>
<div class="t" style="left:106.50px;width:54.94px;top:343.66px;line-height:8.88px;font-size:7.4px;text-align:right;color:#111;transform:scaleX(0.946);transform-origin:100% 50%">15</div>
<div class="t" style="left:161.84px;width:54.94px;top:343.66px;line-height:8.88px;font-size:7.4px;text-align:right;color:#111;transform:scaleX(0.946);transform-origin:100% 50%">2</div>
<div class="t" style="left:217.19px;width:54.94px;top:343.66px;line-height:8.88px;font-size:7.4px;text-align:right;color:#111;transform:scaleX(0.946);transform-origin:100% 50%">0</div>
<div class="t" style="left:272.53px;width:54.94px;top:343.66px;line-height:8.88px;font-size:7.4px;text-align:right;color:#111;transform:scaleX(0.946);transform-origin:100% 50%">352</div>
<div class="t" style="left:327.88px;width:54.94px;top:343.66px;line-height:8.88px;font-size:7.4px;text-align:right;color:#111;transform:scaleX(0.946);transform-origin:100% 50%">369</div>
<div class="t" style="left:383.22px;width:54.94px;top:343.66px;line-height:8.88px;font-size:7.4px;text-align:right;color:#111;transform:scaleX(0.946);transform-origin:100% 50%">7.626</div>
<div class="t" style="left:438.56px;width:54.94px;top:343.66px;line-height:8.88px;font-size:7.4px;text-align:right;color:#111;transform:scaleX(0.946);transform-origin:100% 50%">419</div>
<div class="t" style="left:493.91px;width:54.94px;top:343.66px;line-height:8.88px;font-size:7.4px;text-align:right;color:#111;transform:scaleX(0.946);transform-origin:100% 50%">8.414</div>
<div class="t" style="left:549.25px;width:54.94px;top:343.66px;line-height:8.88px;font-size:7.4px;text-align:right;color:#111;transform:scaleX(0.946);transform-origin:100% 50%">0</div>
<div class="t" style="left:604.59px;width:54.94px;top:343.66px;line-height:8.88px;font-size:7.4px;text-align:right;color:#111;transform:scaleX(0.946);transform-origin:100% 50%">8.414</div>
<div class="t" style="left:659.94px;width:54.94px;top:343.66px;line-height:8.88px;font-size:7.4px;text-align:right;color:#111;transform:scaleX(0.946);transform-origin:100% 50%">49</div>
<div class="t" style="left:715.28px;width:54.94px;top:343.66px;line-height:8.88px;font-size:7.4px;text-align:right;color:#111;transform:scaleX(0.946);transform-origin:100% 50%">47.398</div>
<div class="t" style="left:770.62px;width:54.94px;top:343.66px;line-height:8.88px;font-size:7.4px;text-align:right;color:#111;transform:scaleX(0.946);transform-origin:100% 50%">77.842</div>
<div class="t" style="left:825.97px;width:54.94px;top:343.66px;line-height:8.88px;font-size:7.4px;text-align:right;color:#111;transform:scaleX(0.946);transform-origin:100% 50%">7.453</div>
<div class="t" style="left:881.31px;width:54.94px;top:343.66px;line-height:8.88px;font-size:7.4px;text-align:right;color:#111;transform:scaleX(0.946);transform-origin:100% 50%">85.295</div>
<div class="t" style="left:936.66px;width:54.94px;top:343.66px;line-height:8.88px;font-size:7.4px;text-align:right;color:#111;transform:scaleX(0.946);transform-origin:100% 50%">902</div>
<div class="t" style="left:20.30px;width:86.20px;top:355.82px;line-height:7.56px;font-size:6.3px;text-align:center;color:#111;font-weight:700;transform:scaleX(0.93);transform-origin:50% 50%">TOTALE</div>
<div class="t" style="left:106.50px;width:54.34px;top:356.01px;line-height:8.58px;font-size:7.15px;text-align:right;color:#111;font-weight:700">26.517</div>
<div class="t" style="left:161.84px;width:54.34px;top:356.01px;line-height:8.58px;font-size:7.15px;text-align:right;color:#111;font-weight:700">3.317</div>
<div class="t" style="left:217.19px;width:54.34px;top:356.01px;line-height:8.58px;font-size:7.15px;text-align:right;color:#111;font-weight:700">324</div>
<div class="t" style="left:272.53px;width:54.34px;top:356.01px;line-height:8.58px;font-size:7.15px;text-align:right;color:#111;font-weight:700">509.174</div>
<div class="t" style="left:327.88px;width:54.34px;top:356.01px;line-height:8.58px;font-size:7.15px;text-align:right;color:#111;font-weight:700">539.008</div>
<div class="t" style="left:383.22px;width:54.34px;top:356.01px;line-height:8.58px;font-size:7.15px;text-align:right;color:#0a2a12;font-weight:700">2.639.370</div>
<div class="t" style="left:438.56px;width:54.34px;top:356.01px;line-height:8.58px;font-size:7.15px;text-align:right;color:#3a0000;font-weight:700">103.432</div>
<div class="t" style="left:493.91px;width:54.34px;top:356.01px;line-height:8.58px;font-size:7.15px;text-align:right;color:#111;font-weight:700">3.193.783</div>
<div class="t" style="left:549.25px;width:54.34px;top:356.01px;line-height:8.58px;font-size:7.15px;text-align:right;color:#111;font-weight:700">88.027</div>
<div class="t" style="left:604.59px;width:54.34px;top:356.01px;line-height:8.58px;font-size:7.15px;text-align:right;color:#111;font-weight:700">3.281.810</div>
<div class="t" style="left:659.94px;width:54.34px;top:356.01px;line-height:8.58px;font-size:7.15px;text-align:right;color:#111;font-weight:700">23.059</div>
<div class="t" style="left:715.28px;width:54.34px;top:356.01px;line-height:8.58px;font-size:7.15px;text-align:right;color:#0a2f5a;font-weight:700">21.424.371</div>
<div class="t" style="left:770.62px;width:54.34px;top:356.01px;line-height:8.58px;font-size:7.15px;text-align:right;color:#111;font-weight:700">37.770.144</div>
<div class="t" style="left:825.97px;width:54.34px;top:356.01px;line-height:8.58px;font-size:7.15px;text-align:right;color:#111;font-weight:700">7.770.634</div>
<div class="t" style="left:881.31px;width:54.34px;top:356.01px;line-height:8.58px;font-size:7.15px;text-align:right;color:#111;font-weight:700">45.540.778</div>
<div class="t" style="left:936.66px;width:54.34px;top:356.01px;line-height:8.58px;font-size:7.15px;text-align:right;color:#111;font-weight:700">369.084</div>
<div class="t" style="left:20.30px;width:179.70px;top:380.76px;line-height:8.28px;font-size:6.9px;text-align:left;color:#222;transform:scaleX(1.18);transform-origin:0 50%">Note:</div>
<div class="t" style="left:20.00px;width:680.00px;top:395.96px;line-height:6.48px;font-size:5.4px;text-align:left;color:#222">La regione Abruzzo comunica che dal totale dei positivi, dichiarato nei giorni precedenti, sono stati sottratti 2 casi: 1 per duplicato ed 1 poiché già in carico in altra Regione.</div>
<div class="t" style="left:20.00px;width:680.00px;top:402.35px;line-height:6.50px;font-size:5.42px;text-align:left;color:#222">La regione Emilia Romagna comunica che dal totale dei positivi sono stati eliminati 16 casi dichiarati nei giorni precedenti, in quanto positivi al test antigenico ma non confermati da tampone molecolare.</div>
<div class="t" style="left:20.00px;width:680.00px;top:408.62px;line-height:6.55px;font-size:5.46px;text-align:left;color:#222">La P.A. di Bolzano comunica che dal totale dei positivi, dichiarato nei giorni precedenti, è stato sottratto 1 caso in quanto positivo al test antigenico ma non confermato da tampone molecolare.</div>
</div></body></html>
